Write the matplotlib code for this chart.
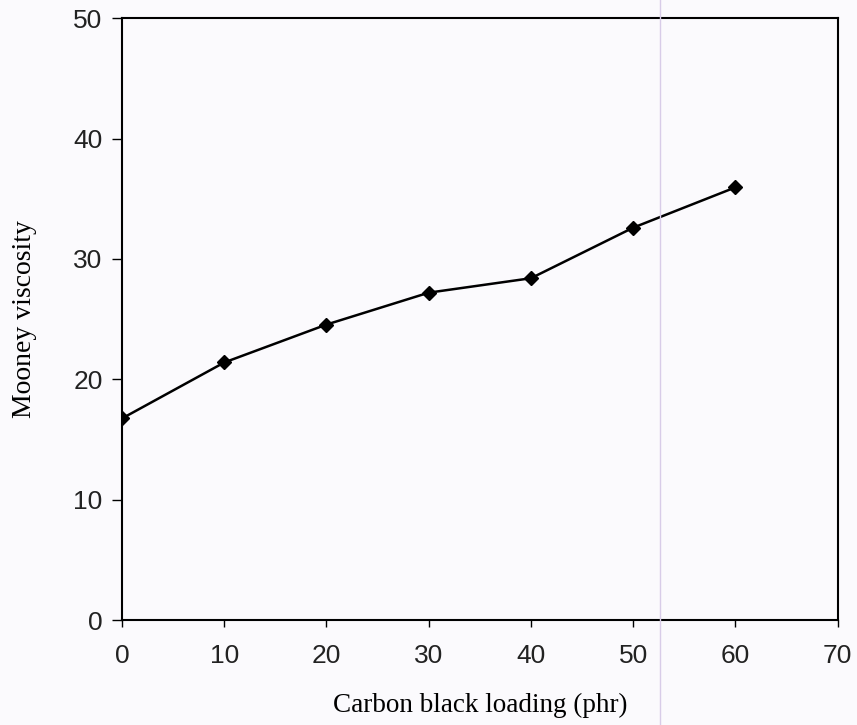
import matplotlib.pyplot as plt
from matplotlib.lines import Line2D

loading = [0, 10, 20, 30, 40, 50, 60]
viscosity = [16.75, 21.4, 24.55, 27.2, 28.4, 32.6, 35.95]

fig = plt.figure(figsize=(8.57, 7.25), dpi=100, facecolor='#fbfafd')
ax = fig.add_axes([0.1424, 0.1448, 0.835, 0.830])
ax.set_facecolor('#fbfafd')

ax.plot(loading, viscosity, color='black', lw=1.8, marker='D', ms=7.5,
        markerfacecolor='black', markeredgecolor='black')

ax.set_xlim(0, 70)
ax.set_ylim(0, 50)
ax.set_xticks(range(0, 71, 10))
ax.set_yticks(range(0, 51, 10))

for s in ax.spines.values():
    s.set_linewidth(1.5)
ax.tick_params(axis='y', direction='out', length=7, width=1, pad=7)
ax.tick_params(axis='x', direction='out', length=5, width=1, pad=12)
for lab in ax.get_xticklabels() + ax.get_yticklabels():
    lab.set_fontfamily('Liberation Sans')
    lab.set_fontsize(19)
    lab.set_color('#222222')

ax.set_xlabel('Carbon black loading (phr)', family='Liberation Serif', fontsize=19.5, labelpad=18)
ax.set_ylabel('Mooney viscosity', family='Liberation Serif', fontsize=20, labelpad=26)

# faint vertical scan streak
fig.add_artist(Line2D([0.770, 0.770], [0, 1], color='#d8cce8', lw=1))

fig.savefig('out.png', dpi=100, facecolor=fig.get_facecolor())
